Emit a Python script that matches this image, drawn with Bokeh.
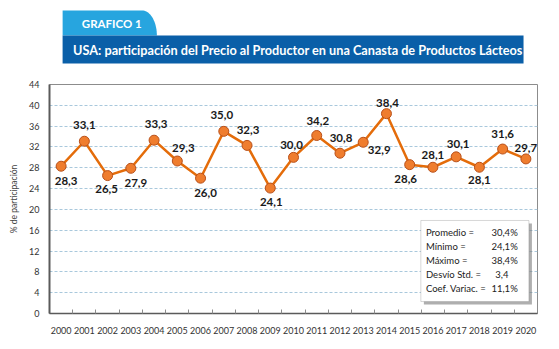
import numpy as np
from bokeh.plotting import figure
from bokeh.layouts import column
from bokeh.models import ColumnDataSource, Range1d, FixedTicker, BoxAnnotation
from bokeh.core.properties import value
from bokeh.embed import file_html
from bokeh.resources import INLINE

# ---------------- data ----------------
years = [2000, 2001, 2002, 2003, 2004, 2005, 2006, 2007, 2008, 2009, 2010,
         2011, 2012, 2013, 2014, 2015, 2016, 2017, 2018, 2019, 2020]
year_labels = ["2000", "2001", "2002", "2003", "2004", "2005", "2006", "2007",
               "2008", "2009", "2010", "2011", "2012", "2013", "2014", "2015",
               "2016", "2017", "2018", "2019", "2020"]
share = [28.3, 33.1, 26.5, 27.9, 33.3, 29.3, 26.0, 35.0, 32.3, 24.1, 30.0,
         34.2, 30.8, 32.9, 38.4, 28.6, 28.1, 30.1, 28.1, 31.6, 29.7]
share_text = ["28,3", "33,1", "26,5", "27,9", "33,3", "29,3", "26,0", "35,0",
              "32,3", "24,1", "30,0", "34,2", "30,8", "32,9", "38,4", "28,6",
              "28,1", "30,1", "28,1", "31,6", "29,7"]
y_ticks = [0, 4, 8, 12, 16, 20, 24, 28, 32, 36, 40, 44]
stat_names = ["Promedio =", "Mínimo =", "Máximo =", "Desvío Std. =", "Coef. Variac. ="]
stat_values = ["30,4%", "24,1%", "38,4%", "3,4", "11,1%"]

header_tab = "GRAFICO 1"
header_title = "USA: participación del Precio al Productor en una Canasta de Productos Lácteos"
y_title = "% de participación"

# ---------------- layout / styles (not data) ----------------
label_dx = [5, 0, -1, 5, 2, 6, 5, -2, 1, 1, -2, 1, 1, 16, 1, -4, 0, 2, 0, 0, 0]
label_dy = [15, -16, 13, 15, -16, -13, 15, -16, -15, 14, -12, -15, -15, 8, -11, 14, -12, -13, 13, -15, -11]
stat_rows_y = [15.56, 12.87, 10.18, 7.49, 4.80]
stat_name_x = 2015.70
stat_value_x = [2019.65, 2019.65, 2019.65, 2019.25, 2019.65]

FONT = value("Lato")
ORANGE_LINE = "#e46c0a"
ORANGE_FILL = "#ef7d2e"
ORANGE_EDGE = "#b8501a"

# ---------------- header figure ----------------
h = figure(width=559, height=70, x_range=Range1d(0, 559), y_range=Range1d(70, 0),
           x_axis_type=None, y_axis_type=None, output_backend="svg",
           toolbar_location=None, min_border=0)
h.outline_line_color = None
h.grid.visible = False
h.background_fill_color = "white"
h.border_fill_color = "white"

theta = np.linspace(np.pi / 2, 0, 20)
tab_x = [15, 15] + list(106 + 17 * np.cos(theta)) + [15]
tab_y = [35, 10] + list(35 - 25 * np.sin(theta)) + [35]
h.patch(tab_x, tab_y, fill_color="#27a5df", line_color=None)
h.quad(left=15, right=543, top=35, bottom=63, fill_color="#0a5fa8", line_color=None)
h.text(x=[37], y=[23], text=[header_tab], text_font=FONT, text_font_style="bold",
       text_font_size="11.5px", text_color="white", text_baseline="middle", text_align="left")
h.text(x=[27], y=[49.5], text=[header_title], text_font=FONT, text_font_style="bold",
       text_font_size="12.7px", text_color="white", text_baseline="middle", text_align="left")

# ---------------- chart figure ----------------
p = figure(width=559, height=279, x_range=Range1d(1999.5, 2020.5), y_range=Range1d(0, 44),
           output_backend="svg", toolbar_location=None,
           min_border_left=49, min_border_right=22, min_border_top=14, min_border_bottom=36)
p.background_fill_color = "white"
p.border_fill_color = "white"
p.outline_line_color = "#8c8c8c"
p.outline_line_width = 1

p.xgrid.visible = False
p.ygrid.ticker = FixedTicker(ticks=y_ticks)
p.ygrid.grid_line_color = "#a9c8dc"
p.ygrid.grid_line_dash = "3 2"
p.ygrid.grid_line_width = 1

xt = FixedTicker(ticks=years, minor_ticks=[y + 0.5 for y in years[:-1]])
p.xaxis.ticker = xt
p.xaxis.major_label_overrides = {y: l for y, l in zip(years, year_labels)}
p.xaxis.major_tick_line_color = None
p.xaxis.minor_tick_in = 4
p.xaxis.minor_tick_out = 0
p.xaxis.minor_tick_line_color = "#8c8c8c"
p.xaxis.axis_line_color = "#5a5a5a"
p.xaxis.axis_line_width = 1.5
p.xaxis.major_label_standoff = 7
p.xaxis.major_label_text_font = "Lato"
p.xaxis.major_label_text_font_size = "9px"
p.xaxis.major_label_text_color = "#333333"

p.yaxis.ticker = FixedTicker(ticks=y_ticks)
p.yaxis.major_tick_out = 0
p.yaxis.major_tick_in = 0
p.yaxis.minor_tick_line_color = None
p.yaxis.axis_line_color = "#5a5a5a"
p.yaxis.axis_line_width = 2
p.yaxis.major_label_standoff = 10
p.yaxis.major_label_text_font = "Lato"
p.yaxis.major_label_text_font_size = "9px"
p.yaxis.major_label_text_color = "#333333"
p.yaxis.axis_label = y_title
p.yaxis.axis_label_standoff = 7
p.yaxis.axis_label_text_font = "Lato"
p.yaxis.axis_label_text_font_style = "normal"
p.yaxis.axis_label_text_font_size = "8.5px"
p.yaxis.axis_label_text_color = "#444444"

# statistics box (underlay so text glyphs draw on top)
p.add_layout(BoxAnnotation(left=2015.61, right=2020.26, top=17.3, bottom=1.72, level="underlay",
                           fill_color="#7a7a7a", fill_alpha=0.6, line_color=None))
p.add_layout(BoxAnnotation(left=2015.48, right=2020.13, top=17.87, bottom=2.3, level="underlay",
                           fill_color="white", fill_alpha=1.0, line_color="#7f7f7f", line_width=1))

src = ColumnDataSource(dict(x=years, y=share, t=share_text, dx=label_dx, dy=label_dy))
p.line("x", "y", source=src, line_color=ORANGE_LINE, line_width=2.5)
p.scatter("x", "y", source=src, size=10, fill_color=ORANGE_FILL, line_color=ORANGE_EDGE, line_width=1)
p.text("x", "y", text="t", source=src, x_offset="dx", y_offset="dy", text_font=FONT,
       text_font_style="bold", text_font_size="11.5px", text_color="#1a1a1a",
       text_align="center", text_baseline="middle")

p.text(x=[stat_name_x] * len(stat_names), y=stat_rows_y, text=stat_names, text_font=FONT,
       text_font_size="9.5px", text_color="#222222", text_align="left", text_baseline="middle")
p.text(x=stat_value_x, y=stat_rows_y, text=stat_values, text_font=FONT,
       text_font_size="9.5px", text_color="#222222", text_align="right", text_baseline="middle")

layout = column(h, p, spacing=0)
open("out.html", "w").write(file_html(layout, INLINE))
